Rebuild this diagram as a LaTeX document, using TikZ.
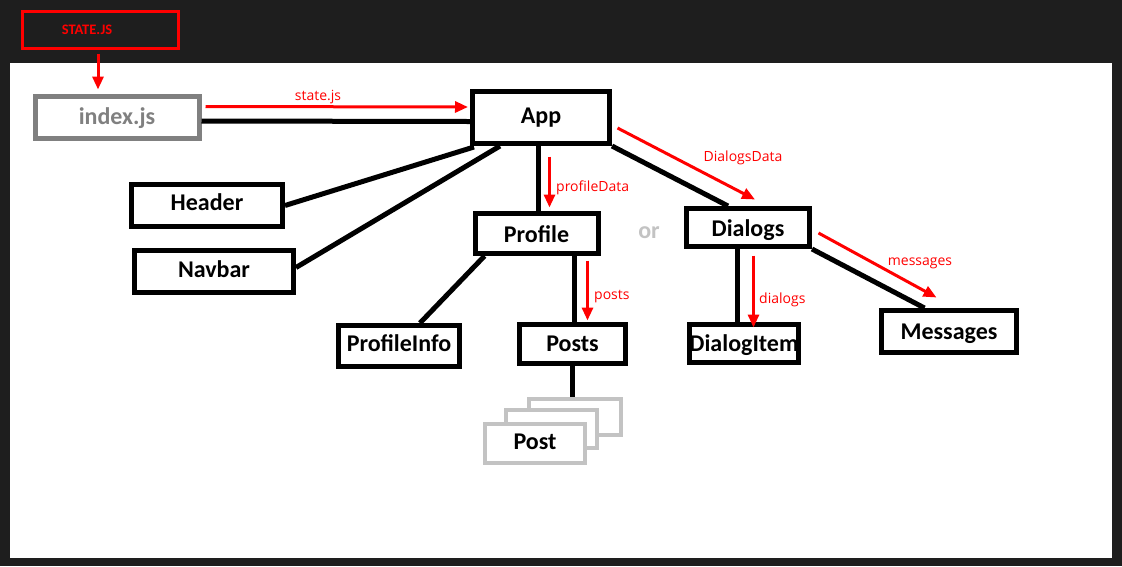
\documentclass[tikz,border=0pt]{standalone}
\usepackage{fontspec}
\setmainfont{Carlito}
\newfontfamily\labelfont{Open Sans}
\usetikzlibrary{arrows.meta,calc}
\definecolor{bgdark}{HTML}{1E1E1E}
\definecolor{boxgray}{HTML}{808080}
\definecolor{stackgray}{HTML}{C3C3C3}
\definecolor{pred}{HTML}{FF0000}
\begin{document}
\begin{tikzpicture}[x=1pt,y=-1pt,
  comp/.style={draw=black,line width=5pt,fill=white,inner sep=0pt,text depth=4pt,
    font=\fontsize{24}{26}\selectfont\bfseries},
  postcard/.style={draw=stackgray,line width=4pt,fill=white,inner sep=0pt,text depth=4pt,
    font=\fontsize{24}{26}\selectfont\bfseries},
  link/.style={draw=black,line width=5pt},
  flow/.style={draw=pred,line width=3pt,-{Triangle[length=13pt,width=11pt]}},
  flowlabel/.style={text=pred,inner sep=0pt,font=\labelfont\fontsize{14}{16}\selectfont}]
\fill[bgdark] (0,0) rectangle (1122,566);
\fill[white] (10,63) rectangle (1112,558);
\useasboundingbox (0,0) rectangle (1122,566);

% nodes
\node[draw=pred,line width=3pt,minimum width=156,minimum height=37,
  label={[xshift=-13.5pt,text=pred,font=\fontsize{14.5}{17}\selectfont\bfseries]center:STATE.JS}] (state) at (100.5,30) {};
\node[comp,draw=boxgray,text=boxgray,minimum width=164,minimum height=42,text height=18pt] (index) at (117,117) {index.js};
\node[comp,minimum width=137,minimum height=52,text height=15pt] (App) at (541,117.5) {App};
\node[comp,minimum width=151,minimum height=42,text height=14pt] (Header) at (207,205.5) {Header};
\node[comp,minimum width=159,minimum height=42,text height=16pt] (Navbar) at (214,271.5) {Navbar};
\node[comp,minimum width=123,minimum height=40,text height=21pt] (Profile) at (536.5,233.5) {Profile};
\node[comp,minimum width=123,minimum height=38,text height=21pt] (Dialogs) at (748,227.5) {Dialogs};
\node[comp,minimum width=107,minimum height=38,text height=20pt] (DialogItem) at (744,343.5) {DialogItem};
\node[comp,minimum width=135,minimum height=42,text height=19pt] (Messages) at (949,331.5) {Messages};
\node[comp,minimum width=121,minimum height=41,text height=15pt] (ProfileInfo) at (399,346) {ProfileInfo};
\node[comp,minimum width=106,minimum height=39,text height=19pt] (Posts) at (572.5,344) {Posts};
\node[postcard,minimum width=92,minimum height=36] (postback) at (575,417) {};
\node[postcard,minimum width=91,minimum height=38] (postmid) at (551.5,429) {};
\node[postcard,minimum width=100,minimum height=39,text height=15pt] (Post) at (535,443.5) {Post};
\node[text=stackgray,inner sep=0pt,font=\fontsize{24}{26}\selectfont\bfseries] (or) at (649,233) {or};

% black links
\draw[link] ($(index.east)+(0,4)$) -- ($(App.west)+(0,4)$);
\draw[link] ($(App.south west)+(4,1)$) -- (Header.east);
\draw[link] ($(App.south west)+(30,0)$) -- ($(Navbar.east)+(0,-4)$);
\draw[link] ($(App.south)+(-2.5,0)$) coordinate (a1) -- (a1 |- Profile.north);
\draw[link] (App.south east) -- ($(Dialogs.north west)+(44,0)$);
\draw[link] ($(Dialogs.south)+(-11,0)$) coordinate (d1) -- (d1 |- DialogItem.north);
\draw[link] (Dialogs.south east) -- ($(Messages.north west)+(45.5,0)$);
\draw[link] ($(Profile.south west)+(12,0)$) -- ($(ProfileInfo.north)+(21,0)$);
\draw[link] ($(Profile.south)+(38,0)$) coordinate (p1) -- (p1 |- Posts.north);
\draw[link] (Posts.south) -- (Posts.south |- postback.north);

% red data flows
\draw[flow] ($(state.south)+(-2.5,3.5)$) -- ($(index.north)+(-19,-4)$);
\draw[flow] ($(index.east)+(4,-10.5)$) -- ($(App.west)+(-2,-10.5)$);
\draw[flow] ($(App.south)+(8.5,10.5)$) coordinate (r1) -- ($(r1 |- Profile.north)+(0,-3.5)$);
\draw[flow] ($(App.east)+(5.5,10.5)$) -- ($(Dialogs.north)+(7,-6.5)$);
\draw[flow] ($(Dialogs.south)+(5.5,6.5)$) coordinate (d2) -- ($(d2 |- DialogItem.north)+(0,5.5)$);
\draw[flow] ($(Dialogs.east)+(6.5,5.5)$) -- ($(Messages.north west)+(57.5,-10.5)$);
\draw[flow] ($(Profile.south)+(51,4.5)$) coordinate (p2) -- ($(p2 |- Posts.north)+(0,-1.5)$);

% flow labels
\node[flowlabel] (lstate) at (318,97) {state.js};
\node[flowlabel,anchor=west] (lprofile) at (556,188) {profileData};
\node[flowlabel] (ldialogsdata) at (743,158) {DialogsData};
\node[flowlabel,anchor=west] (ldialogs) at (759,300) {dialogs};
\node[flowlabel] (lmessages) at (920,263) {messages};
\node[flowlabel,anchor=west] (lposts) at (594,297) {posts};
\end{tikzpicture}
\end{document}
